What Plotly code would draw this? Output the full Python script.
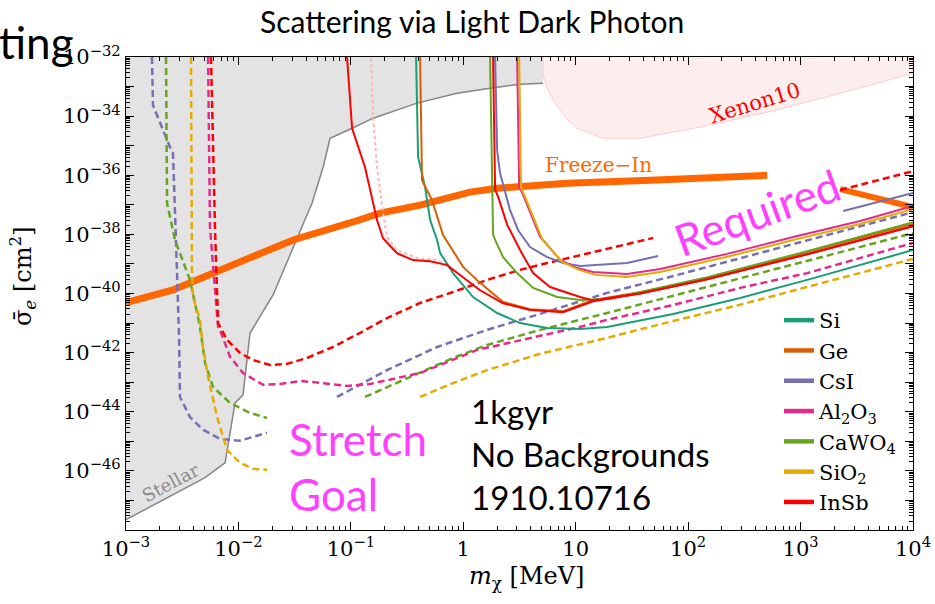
import numpy as np
import plotly.graph_objects as go

# ------------------------------------------------------------------
# Curves are stored as log10(m_chi / MeV) and log10(sigma_e / cm^2)
# ------------------------------------------------------------------

# Stellar cooling bound (edge of shaded region)
stellar_lm = [-3.0, -2.297, -2.119, -2.030, -1.959, -1.897, -1.692, -1.514, -1.345,
              -1.247, -1.185, -0.989, -0.802, -0.411, -0.055, 0.238, 0.505, 0.710]
stellar_ls = [-47.65, -46.23, -45.73, -43.70, -43.43, -41.34, -40.05, -38.46, -36.94,
              -35.73, -34.75, -34.41, -34.07, -33.56, -33.23, -33.06, -32.92, -32.89]

# Xenon10 excluded region
xenon_lm = [0.710, 0.710, 0.754, 0.817, 0.906, 1.012, 1.244, 1.573, 2.107, 2.703, 3.290, 4.0, 4.0]
xenon_ls = [-32.0, -32.62, -33.125, -33.56, -34.04, -34.41, -34.75, -34.75, -34.37,
            -33.87, -33.29, -32.55, -32.0]

# Freeze-in target
freeze_lm = [-3.0, -2.582, -2.164, -1.808, -1.514, -0.980, -0.740, -0.384, 0.060,
             0.301, 0.657, 0.923, 1.662, 2.107, 2.703]
freeze_ls = [-40.31, -39.88, -39.21, -38.63, -38.19, -37.58, -37.28, -37.01, -36.57,
             -36.44, -36.33, -36.27, -36.17, -36.10, -36.0]
freeze_hi_lm = [3.352, 4.0]
freeze_hi_ls = [-36.47, -37.08]

# ---- dashed reach curves (low-mass branch) ----
csi_d_lo_lm = [-2.769, -2.760, -2.609, -2.582, -2.546, -2.528, -2.520, -2.431, -2.315, -2.164, -1.986, -1.746]
csi_d_lo_ls = [-32.0, -33.63, -35.05, -35.26, -39.31, -41.47, -43.50, -44.18, -44.61, -44.92, -44.98, -44.71]

cawo4_d_lo_lm = [-2.644, -2.635, -2.635, -2.564, -2.431, -2.342, -2.297, -2.226, -2.075, -1.897, -1.746]
cawo4_d_lo_ls = [-32.0, -35.05, -36.94, -38.19, -39.54, -41.13, -42.35, -43.16, -43.70, -44.04, -44.21]

sio2_d_lo_lm = [-2.422, -2.413, -2.404, -2.342, -2.315, -2.270, -2.190, -2.101, -1.986, -1.870, -1.746]
sio2_d_lo_ls = [-32.0, -39.31, -40.12, -40.89, -41.81, -42.82, -44.17, -45.29, -45.73, -45.93, -45.96]

# ---- dashed reach curves (high-mass branch) ----
csi_d_hi_lm = [-1.123, -0.678, -0.233, 0.212, 0.683, 1.279, 1.867, 2.463, 3.237, 4.0]
csi_d_hi_ls = [-43.50, -42.59, -41.81, -41.23, -40.69, -39.98, -39.41, -38.80, -38.02, -37.25]

cawo4_d_hi_lm = [-0.874, -0.384, -0.091, 0.212, 0.683, 1.279, 1.867, 2.463, 3.059, 4.0]
cawo4_d_hi_ls = [-43.50, -42.69, -42.18, -41.74, -41.23, -40.66, -40.08, -39.48, -38.90, -37.96]

sio2_d_hi_lm = [-0.384, -0.091, 0.212, 0.683, 1.279, 1.867, 2.463, 3.059, 4.0]
sio2_d_hi_ls = [-43.50, -43.03, -42.59, -42.04, -41.50, -40.93, -40.38, -39.78, -38.83]

al2o3_d_lm = [-2.270, -2.253, -2.208, -2.181, -2.164, -2.075, -1.959, -1.781, -1.630, -1.452,
              -1.274, -1.034, -0.829, -0.625, -0.384, 0.123, 0.683, 1.039, 1.279, 1.867,
              2.463, 3.059, 4.0]
al2o3_d_ls = [-32.0, -37.75, -39.88, -41.13, -41.23, -42.14, -42.69, -43.09, -43.06, -42.96,
              -43.02, -43.13, -43.06, -42.89, -42.69, -41.91, -41.44, -41.13, -40.89, -40.39,
              -39.81, -39.31, -38.29]

insb_d_lm = [-2.244, -2.208, -2.181, -2.101, -1.986, -1.870, -1.719, -1.568, -1.390, -1.158,
             -0.918, -0.678, -0.384, -0.091, 0.212, 0.505, 0.746, 1.039, 1.689]
insb_d_ls = [-32.0, -37.86, -41.0, -41.57, -42.01, -42.25, -42.42, -42.38, -42.18, -41.81,
             -41.33, -40.83, -40.32, -39.95, -39.54, -39.20, -38.97, -38.70, -38.12]
insb_d_hi_lm = [3.352, 4.0]
insb_d_hi_ls = [-36.50, -35.86]

# ---- solid reach curves ----
si_lm = [-0.420, -0.402, -0.340, -0.295, -0.233, -0.206, -0.091, 0.087, 0.301, 0.505,
         0.746, 1.039, 1.279, 1.867, 2.463, 3.059, 4.0]
si_ls = [-32.0, -35.38, -36.40, -37.51, -38.19, -38.63, -39.31, -40.12, -40.66, -41.00,
         -41.17, -41.20, -41.13, -40.69, -40.15, -39.54, -38.53]

ge_lm = [-0.384, -0.367, -0.278, -0.180, -0.002, 0.149, 0.354, 0.594, 0.888, 1.155,
         1.573, 2.169, 3.059, 4.0]
ge_ls = [-32.0, -36.17, -36.84, -38.02, -39.10, -39.64, -40.29, -40.53, -40.60, -40.22,
         -39.96, -39.49, -38.60, -37.65]

csi_lm = [0.283, 0.301, 0.327, 0.416, 0.488, 0.594, 0.746, 0.888, 1.039, 1.457, 1.733]
csi_ls = [-32.0, -35.15, -35.93, -37.18, -37.86, -38.43, -38.77, -38.97, -39.07, -38.97, -38.73]
csi_hi_lm = [3.379, 4.0]
csi_hi_ls = [-37.21, -36.60]

al2o3_lm = [0.479, 0.497, 0.532, 0.683, 0.861, 1.012, 1.155, 1.457, 1.751, 2.347, 2.934, 3.530, 4.0]
al2o3_ls = [-32.0, -36.39, -36.66, -38.08, -38.86, -39.14, -39.27, -39.34, -39.17, -38.66,
            -38.09, -37.55, -37.04]

sio2_lm = [0.497, 0.514, 0.550, 0.701, 0.879, 1.030, 1.173, 1.457, 1.751, 2.347, 2.934, 3.530, 4.0]
sio2_ls = [-32.0, -36.43, -36.73, -38.15, -38.93, -39.20, -39.37, -39.44, -39.27, -38.76,
           -38.19, -37.65, -37.14]

cawo4_lm = [0.238, 0.265, 0.283, 0.354, 0.479, 0.621, 0.835, 1.039, 1.306, 1.573, 2.169, 3.059, 4.0]
cawo4_ls = [-32.0, -38.0, -38.19, -38.77, -39.31, -39.81, -40.12, -40.22, -40.18, -39.96,
            -39.45, -38.57, -37.59]

insb_lm = [-1.034, -0.989, -0.874, -0.767, -0.714, -0.589, -0.447, -0.295, -0.144, -0.002,
           0.149, 0.354, 0.594, 0.888, 1.155, 1.573, 2.169, 3.059, 4.0]
insb_ls = [-32.0, -34.41, -35.73, -37.52, -38.13, -38.64, -38.87, -38.91, -39.04, -39.45,
           -39.89, -40.33, -40.56, -40.63, -40.26, -40.0, -39.52, -38.67, -37.72]

insb2_lm = [0.265, 0.283, 0.310, 0.390, 0.505, 0.621, 0.772, 1.039, 1.155, 1.573, 2.169, 3.059, 4.0]
insb2_ls = [-32.0, -36.49, -36.73, -37.67, -38.53, -39.31, -39.78, -40.12, -40.24, -40.0,
            -39.52, -38.67, -37.72]

insb_dot_lm = [-0.820, -0.802, -0.767, -0.714, -0.678, -0.589, -0.411, -0.233, -0.144]
insb_dot_ls = [-32.04, -34.03, -35.72, -37.28, -38.09, -38.53, -38.80, -38.87, -39.04]

# Legend entries
materials = ["Si", "Ge", "CsI", "Al<sub>2</sub>O<sub>3</sub>", "CaWO<sub>4</sub>",
             "SiO<sub>2</sub>", "InSb"]
colors = ["#1b9e77", "#d95f02", "#7570b3", "#e7298a", "#66a61e", "#e6ab02", "#ff0000"]
C = dict(zip(["Si", "Ge", "CsI", "Al2O3", "CaWO4", "SiO2", "InSb"], colors))

x_exp = list(range(-3, 5))
x_ticktext = ["10<sup>\u2212%d</sup>" % -e if e < 0 else ("1" if e == 0 else ("10" if e == 1 else "10<sup>%d</sup>" % e)) for e in x_exp]
y_exp = list(range(-48, -31))
y_ticktext = ["10<sup>\u2212%d</sup>" % -e if (e % 2 == 0 and e > -48) else "" for e in y_exp]


def xy(lm, ls):
    return np.power(10.0, np.array(lm)), np.power(10.0, np.array(ls))


fig = go.Figure()


def add_curve(lm, ls, color, width=2.0, dash="solid", **kw):
    x, y = xy(lm, ls)
    fig.add_trace(go.Scatter(x=x, y=y, mode="lines", showlegend=False, hoverinfo="skip",
                             line=dict(color=color, width=width, dash=dash), **kw))


# shaded stellar region
sx, sy = xy(stellar_lm + [0.710, -3.0], stellar_ls + [-32.0, -32.0])
fig.add_trace(go.Scatter(x=sx, y=sy, mode="lines", fill="toself", fillcolor="#e3e3e3",
                         line=dict(width=0), showlegend=False, hoverinfo="skip"))
add_curve(stellar_lm, stellar_ls, "#858585", 1.5)

# Xenon10 region
xx, xy_ = xy(xenon_lm, xenon_ls)
fig.add_trace(go.Scatter(x=xx, y=xy_, mode="lines", fill="toself", fillcolor="#fdeeee",
                         line=dict(width=1, color="#ffcccc"), showlegend=False, hoverinfo="skip"))

# freeze-in
add_curve(freeze_lm, freeze_ls, "#ff6600", 7)
add_curve(freeze_hi_lm, freeze_hi_ls, "#ff6600", 6)

# dashed curves
DASH = "7px,4px"
add_curve(csi_d_lo_lm, csi_d_lo_ls, C["CsI"], 2.5, DASH)
add_curve(cawo4_d_lo_lm, cawo4_d_lo_ls, C["CaWO4"], 2.5, DASH)
add_curve(sio2_d_lo_lm, sio2_d_lo_ls, C["SiO2"], 2.5, DASH)
add_curve(csi_d_hi_lm, csi_d_hi_ls, C["CsI"], 2.5, DASH)
add_curve(cawo4_d_hi_lm, cawo4_d_hi_ls, C["CaWO4"], 2.5, DASH)
add_curve(sio2_d_hi_lm, sio2_d_hi_ls, C["SiO2"], 2.5, DASH)
add_curve(al2o3_d_lm, al2o3_d_ls, C["Al2O3"], 2.5, DASH)
add_curve(insb_d_lm, insb_d_ls, C["InSb"], 2.5, DASH)
add_curve(insb_d_hi_lm, insb_d_hi_ls, C["InSb"], 2.5, DASH)

# solid curves
add_curve(insb_dot_lm, insb_dot_ls, "#ffb3b3", 2, "3px,3px")
add_curve(si_lm, si_ls, C["Si"], 2)
add_curve(ge_lm, ge_ls, C["Ge"], 2)
add_curve(csi_lm, csi_ls, C["CsI"], 2)
add_curve(csi_hi_lm, csi_hi_ls, C["CsI"], 2)
add_curve(cawo4_lm, cawo4_ls, C["CaWO4"], 2)
add_curve(al2o3_lm, al2o3_ls, C["Al2O3"], 2)
add_curve(sio2_lm, sio2_ls, C["SiO2"], 2)
add_curve(insb_lm, insb_ls, C["InSb"], 2)
add_curve(insb2_lm, insb2_ls, C["InSb"], 2)

# legend entries
for i, (name, col) in enumerate(zip(materials, colors)):
    fig.add_trace(go.Scatter(x=[None], y=[None], mode="lines", name=name,
                             line=dict(color=col, width=4.5)))

serif = "DejaVu Serif"
sans = "Lato"

axis_common = dict(type="log", showgrid=False, zeroline=False, showline=True,
                   automargin=False,
                   linecolor="black", linewidth=1.2, mirror="allticks", ticks="inside",
                   ticklen=8, tickwidth=1, tickcolor="black",
                   tickfont=dict(family=serif, size=21, color="black"))

x_minor = [k * 10.0 ** n for n in range(-3, 4) for k in range(2, 10)]
y_minor = [k * 10.0 ** n for n in range(-48, -32) for k in range(2, 10)]

fig.update_xaxes(range=[-3, 4], tickmode="array", tickvals=[10.0 ** e for e in x_exp],
                 ticktext=x_ticktext,
                 minor=dict(tickmode="array", tickvals=x_minor, ticks="inside", ticklen=4,
                            tickcolor="black", tickwidth=1),
                 **axis_common)
fig.update_yaxes(range=[-48, -32], tickmode="array", tickvals=[10.0 ** e for e in y_exp],
                 ticktext=y_ticktext,
                 minor=dict(tickmode="array", tickvals=y_minor, ticks="inside", ticklen=4,
                            tickcolor="black", tickwidth=1),
                 **axis_common)


def px_x(p):
    return (p - 126) / 787.0


def px_y(p):
    return (530.3 - p) / 473.6


def note(x, y, text, font, **kw):
    d = dict(x=x, y=y, xref="paper", yref="paper", text=text, font=font, showarrow=False,
             xanchor="center", yanchor="middle")
    d.update(kw)
    return d


annotations = [
    # in-plot labels (log coordinates)
    dict(x=-2.60, y=-46.40, xref="x", yref="y", text="Stellar", textangle=-28,
         xanchor="center", yanchor="middle",
         font=dict(family=serif, size=18, color="#8a8a8a"), showarrow=False),
    dict(x=2.596, y=-33.56, xref="x", yref="y", text="Xenon10", textangle=-17,
         xanchor="center", yanchor="middle",
         font=dict(family=serif, size=21, color="#ff0000"), showarrow=False),
    dict(x=1.199, y=-35.66, xref="x", yref="y", text="Freeze\u2212In",
         xanchor="center", yanchor="middle",
         font=dict(family=serif, size=20, color="#ff6600"), showarrow=False),
    # axis titles
    note(px_x(526), px_y(578), "<i>m</i><sub>\u03c7</sub> [MeV]",
         dict(family=serif, size=24, color="black")),
    note(px_x(22), px_y(276), "\u03c3\u0304<sub><i>e</i></sub> [cm<sup>2</sup>]",
         dict(family=serif, size=24, color="black"), textangle=-90),
    # slide text
    note(px_x(472), px_y(21), "Scattering via Light Dark Photon",
         dict(family=sans, size=30, color="black")),
    note(px_x(-3), px_y(42), "ting", dict(family=sans, size=44, color="black"),
         xanchor="left"),
    note(px_x(757), px_y(212), "Required", dict(family=sans, size=44, color="#ff40ff"),
         textangle=-20),
    note(px_x(287), px_y(439), "Stretch", dict(family=sans, size=44, color="#ff40ff"),
         xanchor="left"),
    note(px_x(287), px_y(494), "Goal", dict(family=sans, size=44, color="#ff40ff"),
         xanchor="left"),
    note(px_x(469), px_y(454), "1kgyr<br>No Backgrounds<br>1910.10716",
         dict(family=sans, size=33, color="black"), xanchor="left", align="left"),
]

fig.update_layout(
    width=935, height=604,
    margin=dict(l=126, r=22, t=57, b=74),
    plot_bgcolor="white", paper_bgcolor="white",
    showlegend=True,
    legend=dict(x=px_x(779), y=px_y(300), xanchor="left", yanchor="top",
                bgcolor="rgba(0,0,0,0)", traceorder="normal",
                font=dict(family=serif, size=21, color="black")),
    annotations=annotations,
)

fig.write_html("out.html")
